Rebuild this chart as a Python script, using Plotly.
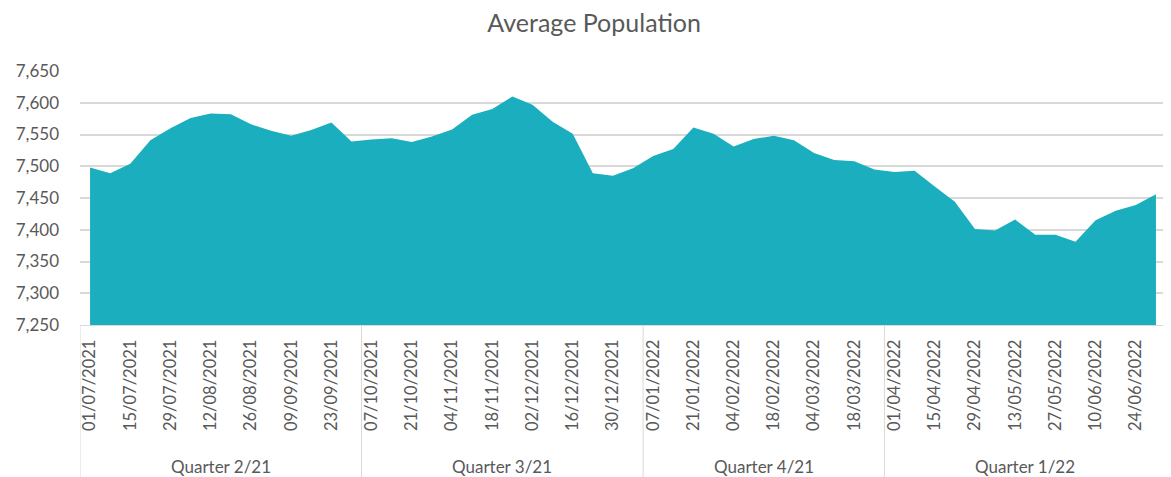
import plotly.graph_objects as go

# ---- data ----
dates_q2_21 = ["01/07/2021", "08/07/2021", "15/07/2021", "22/07/2021", "29/07/2021", "05/08/2021",
               "12/08/2021", "19/08/2021", "26/08/2021", "02/09/2021", "09/09/2021", "16/09/2021",
               "23/09/2021", "30/09/2021"]
dates_q3_21 = ["07/10/2021", "14/10/2021", "21/10/2021", "28/10/2021", "04/11/2021", "11/11/2021",
               "18/11/2021", "25/11/2021", "02/12/2021", "09/12/2021", "16/12/2021", "23/12/2021",
               "30/12/2021", "31/12/2021"]
dates_q4_21 = ["07/01/2022", "14/01/2022", "21/01/2022", "28/01/2022", "04/02/2022", "11/02/2022",
               "18/02/2022", "25/02/2022", "04/03/2022", "11/03/2022", "18/03/2022", "25/03/2022"]
dates_q1_22 = ["01/04/2022", "08/04/2022", "15/04/2022", "22/04/2022", "29/04/2022", "06/05/2022",
               "13/05/2022", "20/05/2022", "27/05/2022", "03/06/2022", "10/06/2022", "17/06/2022",
               "24/06/2022", "30/06/2022"]

quarters = ["Quarter 2/21", "Quarter 3/21", "Quarter 4/21", "Quarter 1/22"]
quarter_dates = [dates_q2_21, dates_q3_21, dates_q4_21, dates_q1_22]

population = [7498, 7489, 7504, 7541, 7560, 7576, 7583, 7582, 7566, 7556, 7548, 7557, 7569, 7539,
              7542, 7544, 7538, 7547, 7558, 7581, 7590, 7610, 7597, 7570, 7551, 7489, 7485, 7497,
              7516, 7527, 7561, 7551, 7531, 7543, 7548, 7541, 7521, 7510, 7508, 7495,
              7491, 7493, 7468, 7444, 7401, 7399, 7416, 7392, 7392, 7381, 7415, 7430, 7439, 7456]

y_ticks = [7250, 7300, 7350, 7400, 7450, 7500, 7550, 7600, 7650]

# ---- figure ----
dates = [d for q in quarter_dates for d in q]
FONT = "Lato, Open Sans, sans-serif"
GREY = "#595959"
LINE = "#d9d9d9"

# the page body has an 8px default margin; size the figure to fit the 1171x477 window
W, H = 1163, 469
PLOT_H = 254

fig = go.Figure()
fig.add_trace(go.Scatter(
    x=dates, y=population, mode="lines", fill="tozeroy",
    line=dict(width=0, color="#1aaebe"), fillcolor="#1aaebe",
    hoverinfo="x+y"))

shapes = []
annotations = []
start = 0
bottom = -(H - 63 - PLOT_H) / PLOT_H
for qname, qd in zip(quarters, quarter_dates):
    n = len(qd)
    shapes.append(dict(type="line", xref="x", yref="paper", x0=start - 0.5, x1=start - 0.5,
                       y0=0, y1=bottom, line=dict(color=LINE, width=1)))
    annotations.append(dict(text=qname, xref="x", yref="paper", x=start + (n - 1) / 2,
                            y=-(141 / PLOT_H),
                            showarrow=False, xanchor="center", yanchor="middle",
                            font=dict(family=FONT, size=17, color=GREY)))
    start += n
shapes.append(dict(type="line", xref="x", yref="paper", x0=start - 0.5, x1=start - 0.5,
                   y0=0, y1=bottom, line=dict(color=LINE, width=1)))

fig.update_layout(
    width=W, height=H,
    margin=dict(l=72, r=5, t=63, b=H - 63 - PLOT_H),
    paper_bgcolor="white", plot_bgcolor="white",
    showlegend=False,
    title=dict(text="Average Population", x=0.504, xanchor="center", y=1 - 15 / H, yanchor="middle",
               font=dict(family=FONT, size=25, color=GREY)),
    xaxis=dict(type="category", range=[-0.5, len(dates) - 0.5], tickmode="array",
               tickvals=dates[::2], ticktext=dates[::2], tickangle=-90,
               showgrid=False, showline=True, linecolor=LINE, linewidth=1, ticks="",
               ticklabelstandoff=7,
               tickfont=dict(family=FONT, size=16.5, color=GREY), fixedrange=True),
    yaxis=dict(range=[7250, 7650], tickmode="array", tickvals=y_ticks, tickformat=",d",
               showgrid=True, gridcolor=LINE, gridwidth=1.5, zeroline=False, ticks="",
               ticklabelstandoff=20,
               tickfont=dict(family=FONT, size=17, color=GREY), fixedrange=True),
    shapes=shapes, annotations=annotations,
)

fig.write_html("out.html")
